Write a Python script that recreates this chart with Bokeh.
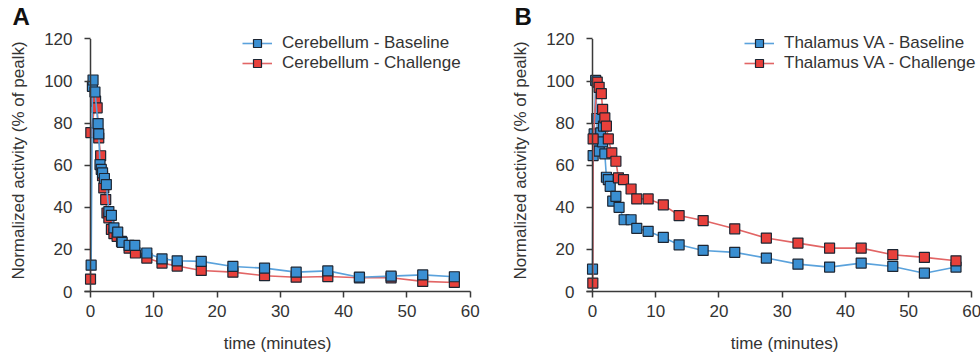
from bokeh.plotting import figure
from bokeh.layouts import row
from bokeh.models import Legend, LegendItem, Range1d, Arrow
from bokeh.embed import file_html
from bokeh.resources import INLINE

# ---- data (minutes, % of peak) ----
a_base_t = [0.1, 0.3, 0.4, 0.7, 1.2, 1.3, 1.5, 1.7, 1.9, 2.2, 2.5, 2.9, 3.3, 3.7, 4.3, 5.0, 6.1, 7.0,
            8.9, 11.3, 13.7, 17.5, 22.5, 27.5, 32.5, 37.5, 42.5, 47.5, 52.5, 57.5]
a_base_v = [12.5, 97.5, 100.5, 94.8, 79.8, 74.9, 60.3, 58.0, 56.4, 53.7, 50.8, 38.0, 36.2, 30.2, 28.2, 23.3, 21.9, 21.9,
            18.3, 15.5, 14.6, 14.3, 11.9, 11.1, 9.2, 9.8, 6.8, 7.3, 7.9, 7.0]
a_chal_t = [0.0, 0.05, 0.8, 1.05, 1.3, 1.6, 1.9, 2.1, 2.4, 2.6, 2.9, 3.3, 3.7, 4.2, 4.9, 6.1, 7.1,
            8.9, 11.3, 13.7, 17.5, 22.5, 27.5, 32.5, 37.5, 42.5, 47.5, 52.5, 57.5]
a_chal_v = [5.9, 75.5, 90.5, 87.3, 73.0, 64.5, 55.0, 49.2, 43.7, 37.3, 35.0, 29.5, 27.5, 26.2, 23.8, 20.6, 18.3,
            15.9, 13.5, 12.1, 10.0, 9.2, 7.5, 6.8, 7.1, 6.5, 6.5, 4.8, 4.3]

b_base_t = [0.0, 0.1, 0.26, 0.5, 0.68, 0.8, 1.06, 1.3, 1.6, 1.74, 1.95, 2.2, 2.5, 2.8, 3.2, 3.7, 4.2, 5.0,
            6.1, 7.0, 8.8, 11.2, 13.7, 17.5, 22.5, 27.5, 32.5, 37.5, 42.5, 47.5, 52.5, 57.5]
b_base_v = [10.6, 64.6, 74.9, 100.3, 82.2, 71.4, 66.7, 75.4, 71.1, 78.6, 65.4, 54.3, 53.2, 50.0, 42.9, 45.2, 40.0, 34.1,
            34.1, 30.0, 28.6, 25.7, 22.2, 19.5, 18.6, 15.9, 13.0, 11.6, 13.5, 11.9, 8.7, 11.6]
b_chal_t = [0.05, 0.1, 0.75, 1.05, 1.4, 1.6, 1.95, 2.2, 2.5, 3.05, 3.7, 4.1, 4.9, 6.1, 7.0, 8.8, 11.2,
            13.7, 17.5, 22.5, 27.5, 32.5, 37.5, 42.5, 47.5, 52.5, 57.5]
b_chal_v = [4.0, 72.5, 99.5, 97.0, 94.0, 86.5, 82.5, 78.6, 72.5, 65.9, 61.9, 54.0, 53.2, 48.7, 44.0, 44.0, 41.2,
            36.1, 33.7, 29.8, 25.4, 23.0, 20.6, 20.6, 17.5, 16.2, 14.6]

x_ticks = [0, 10, 20, 30, 40, 50, 60]
y_ticks = [0, 20, 40, 60, 80, 100, 120]

FONT = "Liberation Sans"
BLUE_FILL = "#3a8fd2"
BLUE_LINE = "#5aa2dc"
RED_FILL = "#e8403b"
RED_LINE = "#e26565"
EDGE = "#1d2633"
AX = "#3a3a3a"
TXT = "#333333"

X_START = -0.95   # a little room left of the zero line for the first squares
Y_TOP = 124.5     # headroom above the 120 tick so the legend is not clipped


def panel(letter, t1, v1, name1, t2, v2, name2, left_border, right_border, frame_w, x_end):
    p = figure(frame_width=frame_w, frame_height=262,
               x_range=Range1d(X_START, x_end), y_range=Range1d(0, Y_TOP),
               output_backend="svg", toolbar_location=None,
               min_border_left=left_border, min_border_right=right_border,
               min_border_top=28, min_border_bottom=67)
    p.outline_line_color = None
    p.grid.visible = False
    p.background_fill_color = "white"
    p.border_fill_color = "white"

    # panel letter as the title
    p.title.text = letter
    p.title.text_font = FONT
    p.title.text_font_size = "24px"
    p.title.text_font_style = "bold"
    p.title.text_color = "#111111"
    p.title.align = "left"
    p.title.offset = -72
    p.title.standoff = 0

    p.xaxis.ticker = x_ticks
    p.yaxis.ticker = y_ticks
    p.xaxis.bounds = (X_START, x_ticks[-1])
    p.yaxis.bounds = (y_ticks[0], y_ticks[-1])
    for ax in (p.xaxis[0], p.yaxis[0]):
        ax.axis_line_color = AX
        ax.axis_line_width = 1.5
        ax.major_tick_line_color = AX
        ax.major_tick_line_width = 1.5
        ax.minor_tick_out = 0
        ax.minor_tick_in = 0
        ax.major_label_text_font = FONT
        ax.major_label_text_font_size = "17px"
        ax.major_label_text_color = TXT
        ax.axis_label_text_font = FONT
        ax.axis_label_text_font_size = "17px"
        ax.axis_label_text_font_style = "normal"
        ax.axis_label_text_color = TXT
    p.xaxis.major_tick_out = 6
    p.xaxis.major_tick_in = 0
    p.xaxis.major_label_standoff = 7
    p.xaxis.axis_label = "time (minutes)"
    p.xaxis.axis_label_standoff = 14
    # y axis: ticks sit between the frame edge and the zero line
    p.yaxis.axis_line_color = None
    p.yaxis.major_tick_out = 0
    p.yaxis.major_tick_in = 6
    p.yaxis.major_label_standoff = 12
    p.yaxis.axis_label = "Normalized activity (% of pealk)"
    p.yaxis.axis_label_standoff = 13
    # the y axis line itself, at t = 0, from the first to the last tick
    p.add_layout(Arrow(x_start=0, y_start=y_ticks[0], x_end=0, y_end=y_ticks[-1], end=None,
                       line_color=AX, line_width=1.5))

    l1 = p.line(t1, v1, line_color=BLUE_LINE, line_width=1.6)
    s1 = p.scatter(t1, v1, marker="square", size=10, fill_color=BLUE_FILL,
                   line_color=EDGE, line_width=1.2)
    l2 = p.line(t2, v2, line_color=RED_LINE, line_width=1.6)
    s2 = p.scatter(t2, v2, marker="square", size=10, fill_color=RED_FILL,
                   line_color=EDGE, line_width=1.2)
    if letter == "A":
        p.renderers = [l2, s2, l1, s1]
    else:
        p.renderers = [l1, s1, l2, s2]

    legend = Legend(items=[LegendItem(label=name1, renderers=[l1, s1]),
                           LegendItem(label=name2, renderers=[l2, s2])],
                    location=(158, 218), border_line_alpha=0, background_fill_alpha=0,
                    padding=0, margin=0, spacing=0, glyph_width=30, glyph_height=20,
                    label_height=20, label_standoff=10,
                    label_text_font=FONT, label_text_font_size="17px",
                    label_text_color=TXT)
    p.add_layout(legend)
    return p


pa = panel("A", a_base_t, a_base_v, "Cerebellum - Baseline",
           a_chal_t, a_chal_v, "Cerebellum - Challenge", 84, 38, 386, 60.05)
pb = panel("B", b_base_t, b_base_v, "Thalamus VA - Baseline",
           b_chal_t, b_chal_v, "Thalamus VA - Challenge", 76, 0, 396, 61.69)

layout = row(pa, pb)
open("out.html", "w").write(file_html(layout, INLINE))
